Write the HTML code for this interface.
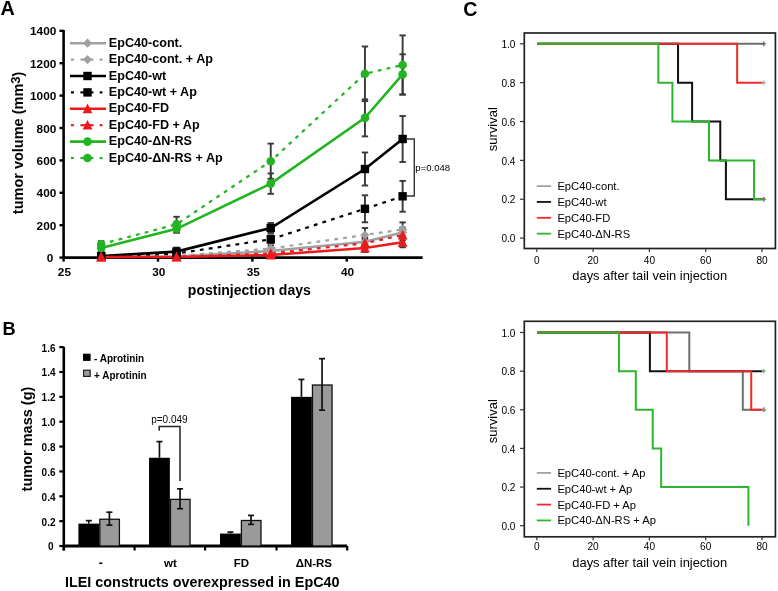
<!DOCTYPE html>
<html><head><meta charset="utf-8"><style>html,body{margin:0;padding:0;background:#fff;overflow:hidden;}svg{display:block;filter:blur(0.35px);}</style></head>
<body><svg width="778" height="591" viewBox="0 0 778 591" font-family='"Liberation Sans", sans-serif'><rect width="778" height="591" fill="#fff"/><text x="0.60" y="15.40" font-size="19.8" font-weight="bold" text-anchor="start" fill="#000" >A</text>
<line x1="63.60" y1="30.00" x2="63.60" y2="257.60" stroke="#000" stroke-width="2.6" />
<line x1="59.50" y1="257.60" x2="63.60" y2="257.60" stroke="#000" stroke-width="2.4" />
<text x="53.30" y="262.10" font-size="11.8" font-weight="bold" text-anchor="end" fill="#000" >0</text>
<line x1="59.50" y1="225.20" x2="63.60" y2="225.20" stroke="#000" stroke-width="2.4" />
<text x="56.30" y="229.70" font-size="11.8" font-weight="bold" text-anchor="end" fill="#000" >200</text>
<line x1="59.50" y1="192.80" x2="63.60" y2="192.80" stroke="#000" stroke-width="2.4" />
<text x="56.30" y="197.30" font-size="11.8" font-weight="bold" text-anchor="end" fill="#000" >400</text>
<line x1="59.50" y1="160.40" x2="63.60" y2="160.40" stroke="#000" stroke-width="2.4" />
<text x="56.30" y="164.90" font-size="11.8" font-weight="bold" text-anchor="end" fill="#000" >600</text>
<line x1="59.50" y1="128.00" x2="63.60" y2="128.00" stroke="#000" stroke-width="2.4" />
<text x="56.30" y="132.50" font-size="11.8" font-weight="bold" text-anchor="end" fill="#000" >800</text>
<line x1="59.50" y1="95.60" x2="63.60" y2="95.60" stroke="#000" stroke-width="2.4" />
<text x="56.30" y="100.10" font-size="11.8" font-weight="bold" text-anchor="end" fill="#000" >1000</text>
<line x1="59.50" y1="63.20" x2="63.60" y2="63.20" stroke="#000" stroke-width="2.4" />
<text x="56.30" y="67.70" font-size="11.8" font-weight="bold" text-anchor="end" fill="#000" >1200</text>
<line x1="59.50" y1="30.80" x2="63.60" y2="30.80" stroke="#000" stroke-width="2.4" />
<text x="56.30" y="35.30" font-size="11.8" font-weight="bold" text-anchor="end" fill="#000" >1400</text>
<line x1="63.60" y1="257.60" x2="422.60" y2="257.60" stroke="#000" stroke-width="2.6" />
<line x1="63.60" y1="257.60" x2="63.60" y2="261.60" stroke="#000" stroke-width="2.4" />
<text x="64.40" y="276.00" font-size="11.8" font-weight="bold" text-anchor="middle" fill="#000" >25</text>
<line x1="158.00" y1="257.60" x2="158.00" y2="261.60" stroke="#000" stroke-width="2.4" />
<text x="158.80" y="276.00" font-size="11.8" font-weight="bold" text-anchor="middle" fill="#000" >30</text>
<line x1="252.40" y1="257.60" x2="252.40" y2="261.60" stroke="#000" stroke-width="2.4" />
<text x="253.20" y="276.00" font-size="11.8" font-weight="bold" text-anchor="middle" fill="#000" >35</text>
<line x1="346.80" y1="257.60" x2="346.80" y2="261.60" stroke="#000" stroke-width="2.4" />
<text x="347.60" y="276.00" font-size="11.8" font-weight="bold" text-anchor="middle" fill="#000" >40</text>
<text x="249.30" y="294.50" font-size="14" font-weight="bold" text-anchor="middle" fill="#000" >postinjection days</text>
<text transform="translate(22.8,142.9) rotate(-90)" font-size="14.5" font-weight="bold" text-anchor="middle">tumor volume (mm<tspan font-size="13" dy="-3.2">3</tspan><tspan dy="3.2">)</tspan></text>
<line x1="364.94" y1="237.80" x2="364.94" y2="245.80" stroke="#383838" stroke-width="1.9" />
<line x1="361.74" y1="237.80" x2="368.14" y2="237.80" stroke="#383838" stroke-width="1.9" />
<line x1="361.74" y1="245.80" x2="368.14" y2="245.80" stroke="#383838" stroke-width="1.9" />
<line x1="402.62" y1="227.50" x2="402.62" y2="237.50" stroke="#383838" stroke-width="1.9" />
<line x1="399.42" y1="227.50" x2="405.82" y2="227.50" stroke="#383838" stroke-width="1.9" />
<line x1="399.42" y1="237.50" x2="405.82" y2="237.50" stroke="#383838" stroke-width="1.9" />
<line x1="270.74" y1="245.50" x2="270.74" y2="251.50" stroke="#383838" stroke-width="1.9" />
<line x1="267.54" y1="245.50" x2="273.94" y2="245.50" stroke="#383838" stroke-width="1.9" />
<line x1="267.54" y1="251.50" x2="273.94" y2="251.50" stroke="#383838" stroke-width="1.9" />
<line x1="364.94" y1="228.00" x2="364.94" y2="242.00" stroke="#383838" stroke-width="1.9" />
<line x1="361.74" y1="228.00" x2="368.14" y2="228.00" stroke="#383838" stroke-width="1.9" />
<line x1="361.74" y1="242.00" x2="368.14" y2="242.00" stroke="#383838" stroke-width="1.9" />
<line x1="402.62" y1="222.40" x2="402.62" y2="236.40" stroke="#383838" stroke-width="1.9" />
<line x1="399.42" y1="222.40" x2="405.82" y2="222.40" stroke="#383838" stroke-width="1.9" />
<line x1="399.42" y1="236.40" x2="405.82" y2="236.40" stroke="#383838" stroke-width="1.9" />
<line x1="176.54" y1="247.60" x2="176.54" y2="255.60" stroke="#383838" stroke-width="1.9" />
<line x1="173.34" y1="247.60" x2="179.74" y2="247.60" stroke="#383838" stroke-width="1.9" />
<line x1="173.34" y1="255.60" x2="179.74" y2="255.60" stroke="#383838" stroke-width="1.9" />
<line x1="270.74" y1="223.00" x2="270.74" y2="233.00" stroke="#383838" stroke-width="1.9" />
<line x1="267.54" y1="223.00" x2="273.94" y2="223.00" stroke="#383838" stroke-width="1.9" />
<line x1="267.54" y1="233.00" x2="273.94" y2="233.00" stroke="#383838" stroke-width="1.9" />
<line x1="364.94" y1="152.50" x2="364.94" y2="185.50" stroke="#383838" stroke-width="1.9" />
<line x1="361.74" y1="152.50" x2="368.14" y2="152.50" stroke="#383838" stroke-width="1.9" />
<line x1="361.74" y1="185.50" x2="368.14" y2="185.50" stroke="#383838" stroke-width="1.9" />
<line x1="402.62" y1="116.00" x2="402.62" y2="162.00" stroke="#383838" stroke-width="1.9" />
<line x1="399.42" y1="116.00" x2="405.82" y2="116.00" stroke="#383838" stroke-width="1.9" />
<line x1="399.42" y1="162.00" x2="405.82" y2="162.00" stroke="#383838" stroke-width="1.9" />
<line x1="270.74" y1="235.30" x2="270.74" y2="243.30" stroke="#383838" stroke-width="1.9" />
<line x1="267.54" y1="235.30" x2="273.94" y2="235.30" stroke="#383838" stroke-width="1.9" />
<line x1="267.54" y1="243.30" x2="273.94" y2="243.30" stroke="#383838" stroke-width="1.9" />
<line x1="364.94" y1="195.30" x2="364.94" y2="222.30" stroke="#383838" stroke-width="1.9" />
<line x1="361.74" y1="195.30" x2="368.14" y2="195.30" stroke="#383838" stroke-width="1.9" />
<line x1="361.74" y1="222.30" x2="368.14" y2="222.30" stroke="#383838" stroke-width="1.9" />
<line x1="402.62" y1="180.90" x2="402.62" y2="211.70" stroke="#383838" stroke-width="1.9" />
<line x1="399.42" y1="180.90" x2="405.82" y2="180.90" stroke="#383838" stroke-width="1.9" />
<line x1="399.42" y1="211.70" x2="405.82" y2="211.70" stroke="#383838" stroke-width="1.9" />
<line x1="364.94" y1="244.00" x2="364.94" y2="252.00" stroke="#383838" stroke-width="1.9" />
<line x1="361.74" y1="244.00" x2="368.14" y2="244.00" stroke="#383838" stroke-width="1.9" />
<line x1="361.74" y1="252.00" x2="368.14" y2="252.00" stroke="#383838" stroke-width="1.9" />
<line x1="402.62" y1="237.30" x2="402.62" y2="247.30" stroke="#383838" stroke-width="1.9" />
<line x1="399.42" y1="237.30" x2="405.82" y2="237.30" stroke="#383838" stroke-width="1.9" />
<line x1="399.42" y1="247.30" x2="405.82" y2="247.30" stroke="#383838" stroke-width="1.9" />
<line x1="364.94" y1="239.20" x2="364.94" y2="247.20" stroke="#383838" stroke-width="1.9" />
<line x1="361.74" y1="239.20" x2="368.14" y2="239.20" stroke="#383838" stroke-width="1.9" />
<line x1="361.74" y1="247.20" x2="368.14" y2="247.20" stroke="#383838" stroke-width="1.9" />
<line x1="402.62" y1="230.20" x2="402.62" y2="240.20" stroke="#383838" stroke-width="1.9" />
<line x1="399.42" y1="230.20" x2="405.82" y2="230.20" stroke="#383838" stroke-width="1.9" />
<line x1="399.42" y1="240.20" x2="405.82" y2="240.20" stroke="#383838" stroke-width="1.9" />
<line x1="101.18" y1="245.00" x2="101.18" y2="251.00" stroke="#383838" stroke-width="1.9" />
<line x1="97.98" y1="245.00" x2="104.38" y2="245.00" stroke="#383838" stroke-width="1.9" />
<line x1="97.98" y1="251.00" x2="104.38" y2="251.00" stroke="#383838" stroke-width="1.9" />
<line x1="176.54" y1="224.80" x2="176.54" y2="232.80" stroke="#383838" stroke-width="1.9" />
<line x1="173.34" y1="224.80" x2="179.74" y2="224.80" stroke="#383838" stroke-width="1.9" />
<line x1="173.34" y1="232.80" x2="179.74" y2="232.80" stroke="#383838" stroke-width="1.9" />
<line x1="270.74" y1="173.40" x2="270.74" y2="193.80" stroke="#383838" stroke-width="1.9" />
<line x1="267.54" y1="173.40" x2="273.94" y2="173.40" stroke="#383838" stroke-width="1.9" />
<line x1="267.54" y1="193.80" x2="273.94" y2="193.80" stroke="#383838" stroke-width="1.9" />
<line x1="364.94" y1="99.40" x2="364.94" y2="136.40" stroke="#383838" stroke-width="1.9" />
<line x1="361.74" y1="99.40" x2="368.14" y2="99.40" stroke="#383838" stroke-width="1.9" />
<line x1="361.74" y1="136.40" x2="368.14" y2="136.40" stroke="#383838" stroke-width="1.9" />
<line x1="402.62" y1="54.30" x2="402.62" y2="94.50" stroke="#383838" stroke-width="1.9" />
<line x1="399.42" y1="54.30" x2="405.82" y2="54.30" stroke="#383838" stroke-width="1.9" />
<line x1="399.42" y1="94.50" x2="405.82" y2="94.50" stroke="#383838" stroke-width="1.9" />
<line x1="101.18" y1="241.20" x2="101.18" y2="247.20" stroke="#383838" stroke-width="1.9" />
<line x1="97.98" y1="241.20" x2="104.38" y2="241.20" stroke="#383838" stroke-width="1.9" />
<line x1="97.98" y1="247.20" x2="104.38" y2="247.20" stroke="#383838" stroke-width="1.9" />
<line x1="176.54" y1="216.80" x2="176.54" y2="231.80" stroke="#383838" stroke-width="1.9" />
<line x1="173.34" y1="216.80" x2="179.74" y2="216.80" stroke="#383838" stroke-width="1.9" />
<line x1="173.34" y1="231.80" x2="179.74" y2="231.80" stroke="#383838" stroke-width="1.9" />
<line x1="270.74" y1="143.60" x2="270.74" y2="178.80" stroke="#383838" stroke-width="1.9" />
<line x1="267.54" y1="143.60" x2="273.94" y2="143.60" stroke="#383838" stroke-width="1.9" />
<line x1="267.54" y1="178.80" x2="273.94" y2="178.80" stroke="#383838" stroke-width="1.9" />
<line x1="364.94" y1="46.50" x2="364.94" y2="101.10" stroke="#383838" stroke-width="1.9" />
<line x1="361.74" y1="46.50" x2="368.14" y2="46.50" stroke="#383838" stroke-width="1.9" />
<line x1="361.74" y1="101.10" x2="368.14" y2="101.10" stroke="#383838" stroke-width="1.9" />
<line x1="402.62" y1="35.40" x2="402.62" y2="94.60" stroke="#383838" stroke-width="1.9" />
<line x1="399.42" y1="35.40" x2="405.82" y2="35.40" stroke="#383838" stroke-width="1.9" />
<line x1="399.42" y1="94.60" x2="405.82" y2="94.60" stroke="#383838" stroke-width="1.9" />
<polyline points="101.18,257.00 176.54,256.50 270.74,251.00 364.94,241.80 402.62,232.50" fill="none" stroke="#a0a0a0" stroke-width="2.6" />
<polyline points="101.18,257.00 176.54,256.00 270.74,248.50 364.94,235.00 402.62,229.40" fill="none" stroke="#a0a0a0" stroke-width="2.2" stroke-dasharray="3.8 5.2"/>
<polyline points="101.18,256.00 176.54,251.60 270.74,228.00 364.94,169.00 402.62,139.00" fill="none" stroke="#000" stroke-width="2.6" />
<polyline points="101.18,256.50 176.54,253.50 270.74,239.30 364.94,208.80 402.62,196.30" fill="none" stroke="#000" stroke-width="2.2" stroke-dasharray="3.8 5.2"/>
<polyline points="101.18,257.00 176.54,257.00 270.74,255.00 364.94,248.00 402.62,242.30" fill="none" stroke="#e81c1c" stroke-width="2.6" />
<polyline points="101.18,257.00 176.54,256.80 270.74,253.50 364.94,243.20 402.62,235.20" fill="none" stroke="#e81c1c" stroke-width="2.2" stroke-dasharray="3.8 5.2"/>
<polyline points="101.18,248.00 176.54,228.80 270.74,183.60 364.94,117.90 402.62,74.40" fill="none" stroke="#22b422" stroke-width="2.6" />
<polyline points="101.18,244.20 176.54,224.30 270.74,161.20 364.94,73.80 402.62,65.00" fill="none" stroke="#22b422" stroke-width="2.2" stroke-dasharray="3.8 5.2"/>
<path d="M101.18 252.40L105.78 257.00L101.18 261.60L96.58 257.00Z" fill="#a0a0a0"/>
<path d="M176.54 251.90L181.14 256.50L176.54 261.10L171.94 256.50Z" fill="#a0a0a0"/>
<path d="M270.74 246.40L275.34 251.00L270.74 255.60L266.14 251.00Z" fill="#a0a0a0"/>
<path d="M364.94 237.20L369.54 241.80L364.94 246.40L360.34 241.80Z" fill="#a0a0a0"/>
<path d="M402.62 227.90L407.22 232.50L402.62 237.10L398.02 232.50Z" fill="#a0a0a0"/>
<path d="M101.18 252.40L105.78 257.00L101.18 261.60L96.58 257.00Z" fill="#a0a0a0"/>
<path d="M176.54 251.40L181.14 256.00L176.54 260.60L171.94 256.00Z" fill="#a0a0a0"/>
<path d="M270.74 243.90L275.34 248.50L270.74 253.10L266.14 248.50Z" fill="#a0a0a0"/>
<path d="M364.94 230.40L369.54 235.00L364.94 239.60L360.34 235.00Z" fill="#a0a0a0"/>
<path d="M402.62 224.80L407.22 229.40L402.62 234.00L398.02 229.40Z" fill="#a0a0a0"/>
<rect x="96.98" y="251.80" width="8.40" height="8.40" fill="#000"/>
<rect x="172.34" y="247.40" width="8.40" height="8.40" fill="#000"/>
<rect x="266.54" y="223.80" width="8.40" height="8.40" fill="#000"/>
<rect x="360.74" y="164.80" width="8.40" height="8.40" fill="#000"/>
<rect x="398.42" y="134.80" width="8.40" height="8.40" fill="#000"/>
<rect x="96.98" y="252.30" width="8.40" height="8.40" fill="#000"/>
<rect x="172.34" y="249.30" width="8.40" height="8.40" fill="#000"/>
<rect x="266.54" y="235.10" width="8.40" height="8.40" fill="#000"/>
<rect x="360.74" y="204.60" width="8.40" height="8.40" fill="#000"/>
<rect x="398.42" y="192.10" width="8.40" height="8.40" fill="#000"/>
<path d="M101.18 251.80L106.08 261.40L96.28 261.40Z" fill="#e81c1c"/>
<path d="M176.54 251.80L181.44 261.40L171.64 261.40Z" fill="#e81c1c"/>
<path d="M270.74 249.80L275.64 259.40L265.84 259.40Z" fill="#e81c1c"/>
<path d="M364.94 242.80L369.84 252.40L360.04 252.40Z" fill="#e81c1c"/>
<path d="M402.62 237.10L407.52 246.70L397.72 246.70Z" fill="#e81c1c"/>
<path d="M101.18 251.80L106.08 261.40L96.28 261.40Z" fill="#e81c1c"/>
<path d="M176.54 251.60L181.44 261.20L171.64 261.20Z" fill="#e81c1c"/>
<path d="M270.74 248.30L275.64 257.90L265.84 257.90Z" fill="#e81c1c"/>
<path d="M364.94 238.00L369.84 247.60L360.04 247.60Z" fill="#e81c1c"/>
<path d="M402.62 230.00L407.52 239.60L397.72 239.60Z" fill="#e81c1c"/>
<circle cx="101.18" cy="248.00" r="4.30" fill="#22b422"/>
<circle cx="176.54" cy="228.80" r="4.30" fill="#22b422"/>
<circle cx="270.74" cy="183.60" r="4.30" fill="#22b422"/>
<circle cx="364.94" cy="117.90" r="4.30" fill="#22b422"/>
<circle cx="402.62" cy="74.40" r="4.30" fill="#22b422"/>
<circle cx="101.18" cy="244.20" r="4.30" fill="#22b422"/>
<circle cx="176.54" cy="224.30" r="4.30" fill="#22b422"/>
<circle cx="270.74" cy="161.20" r="4.30" fill="#22b422"/>
<circle cx="364.94" cy="73.80" r="4.30" fill="#22b422"/>
<circle cx="402.62" cy="65.00" r="4.30" fill="#22b422"/>
<path d="M406 139H414.3V196H406" fill="none" stroke="#333" stroke-width="1.4"/>
<text x="415.20" y="171.40" font-size="9.6" font-weight="normal" text-anchor="start" fill="#000" >p=0.048</text>
<line x1="70.00" y1="43.20" x2="106.00" y2="43.20" stroke="#a0a0a0" stroke-width="2.6" />
<path d="M87.50 38.60L92.10 43.20L87.50 47.80L82.90 43.20Z" fill="#a0a0a0"/>
<text x="108.80" y="46.70" font-size="12.6" font-weight="bold" text-anchor="start" fill="#000" >EpC40-cont.</text>
<line x1="71.00" y1="59.60" x2="73.90" y2="59.60" stroke="#a0a0a0" stroke-width="2.2" />
<line x1="80.40" y1="59.60" x2="93.40" y2="59.60" stroke="#a0a0a0" stroke-width="2.2" />
<line x1="99.70" y1="59.60" x2="102.50" y2="59.60" stroke="#a0a0a0" stroke-width="2.2" />
<path d="M87.50 55.00L92.10 59.60L87.50 64.20L82.90 59.60Z" fill="#a0a0a0"/>
<text x="108.80" y="63.10" font-size="12.6" font-weight="bold" text-anchor="start" fill="#000" >EpC40-cont. + Ap</text>
<line x1="70.00" y1="76.00" x2="106.00" y2="76.00" stroke="#000" stroke-width="2.6" />
<rect x="83.30" y="71.80" width="8.40" height="8.40" fill="#000"/>
<text x="108.80" y="79.50" font-size="12.6" font-weight="bold" text-anchor="start" fill="#000" >EpC40-wt</text>
<line x1="71.00" y1="92.40" x2="73.90" y2="92.40" stroke="#000" stroke-width="2.2" />
<line x1="80.40" y1="92.40" x2="93.40" y2="92.40" stroke="#000" stroke-width="2.2" />
<line x1="99.70" y1="92.40" x2="102.50" y2="92.40" stroke="#000" stroke-width="2.2" />
<rect x="83.30" y="88.20" width="8.40" height="8.40" fill="#000"/>
<text x="108.80" y="95.90" font-size="12.6" font-weight="bold" text-anchor="start" fill="#000" >EpC40-wt + Ap</text>
<line x1="70.00" y1="108.80" x2="106.00" y2="108.80" stroke="#e81c1c" stroke-width="2.6" />
<path d="M87.50 103.60L92.40 113.20L82.60 113.20Z" fill="#e81c1c"/>
<text x="108.80" y="112.30" font-size="12.6" font-weight="bold" text-anchor="start" fill="#000" >EpC40-FD</text>
<line x1="71.00" y1="125.20" x2="73.90" y2="125.20" stroke="#e81c1c" stroke-width="2.2" />
<line x1="80.40" y1="125.20" x2="93.40" y2="125.20" stroke="#e81c1c" stroke-width="2.2" />
<line x1="99.70" y1="125.20" x2="102.50" y2="125.20" stroke="#e81c1c" stroke-width="2.2" />
<path d="M87.50 120.00L92.40 129.60L82.60 129.60Z" fill="#e81c1c"/>
<text x="108.80" y="128.70" font-size="12.6" font-weight="bold" text-anchor="start" fill="#000" >EpC40-FD + Ap</text>
<line x1="70.00" y1="141.60" x2="106.00" y2="141.60" stroke="#22b422" stroke-width="2.6" />
<circle cx="87.50" cy="141.60" r="4.30" fill="#22b422"/>
<text x="108.80" y="145.10" font-size="12.6" font-weight="bold" text-anchor="start" fill="#000" >EpC40-&#916;N-RS</text>
<line x1="71.00" y1="158.00" x2="73.90" y2="158.00" stroke="#22b422" stroke-width="2.2" />
<line x1="80.40" y1="158.00" x2="93.40" y2="158.00" stroke="#22b422" stroke-width="2.2" />
<line x1="99.70" y1="158.00" x2="102.50" y2="158.00" stroke="#22b422" stroke-width="2.2" />
<circle cx="87.50" cy="158.00" r="4.30" fill="#22b422"/>
<text x="108.80" y="161.50" font-size="12.6" font-weight="bold" text-anchor="start" fill="#000" >EpC40-&#916;N-RS + Ap</text>
<text x="2.60" y="334.80" font-size="18.2" font-weight="bold" text-anchor="start" fill="#000" >B</text>
<line x1="63.80" y1="346.80" x2="63.80" y2="550.50" stroke="#000" stroke-width="2.6" />
<line x1="59.30" y1="546.00" x2="63.80" y2="546.00" stroke="#000" stroke-width="2.2" />
<text x="53.50" y="550.40" font-size="10" font-weight="bold" text-anchor="end" fill="#000" >0</text>
<line x1="59.30" y1="521.14" x2="63.80" y2="521.14" stroke="#000" stroke-width="2.2" />
<text x="55.50" y="525.54" font-size="10" font-weight="bold" text-anchor="end" fill="#000" >0.2</text>
<line x1="59.30" y1="496.28" x2="63.80" y2="496.28" stroke="#000" stroke-width="2.2" />
<text x="55.50" y="500.68" font-size="10" font-weight="bold" text-anchor="end" fill="#000" >0.4</text>
<line x1="59.30" y1="471.42" x2="63.80" y2="471.42" stroke="#000" stroke-width="2.2" />
<text x="55.50" y="475.82" font-size="10" font-weight="bold" text-anchor="end" fill="#000" >0.6</text>
<line x1="59.30" y1="446.56" x2="63.80" y2="446.56" stroke="#000" stroke-width="2.2" />
<text x="55.50" y="450.96" font-size="10" font-weight="bold" text-anchor="end" fill="#000" >0.8</text>
<line x1="59.30" y1="421.70" x2="63.80" y2="421.70" stroke="#000" stroke-width="2.2" />
<text x="55.50" y="426.10" font-size="10" font-weight="bold" text-anchor="end" fill="#000" >1.0</text>
<line x1="59.30" y1="396.84" x2="63.80" y2="396.84" stroke="#000" stroke-width="2.2" />
<text x="55.50" y="401.24" font-size="10" font-weight="bold" text-anchor="end" fill="#000" >1.2</text>
<line x1="59.30" y1="371.98" x2="63.80" y2="371.98" stroke="#000" stroke-width="2.2" />
<text x="55.50" y="376.38" font-size="10" font-weight="bold" text-anchor="end" fill="#000" >1.4</text>
<line x1="59.30" y1="347.12" x2="63.80" y2="347.12" stroke="#000" stroke-width="2.2" />
<text x="55.50" y="351.52" font-size="10" font-weight="bold" text-anchor="end" fill="#000" >1.6</text>
<line x1="63.80" y1="546.00" x2="347.20" y2="546.00" stroke="#000" stroke-width="2.8" />
<line x1="63.80" y1="546.00" x2="63.80" y2="550.50" stroke="#000" stroke-width="2.2" />
<line x1="134.60" y1="546.00" x2="134.60" y2="550.50" stroke="#000" stroke-width="2.2" />
<line x1="205.10" y1="546.00" x2="205.10" y2="550.50" stroke="#000" stroke-width="2.2" />
<line x1="276.50" y1="546.00" x2="276.50" y2="550.50" stroke="#000" stroke-width="2.2" />
<line x1="347.20" y1="546.00" x2="347.20" y2="550.50" stroke="#000" stroke-width="2.2" />
<rect x="78.40" y="523.63" width="20.8" height="22.37" fill="#000"/>
<rect x="99.80" y="519.25" width="19.6" height="26.75" fill="#9a9a9a" stroke="#111" stroke-width="1.3"/>
<line x1="88.80" y1="520.64" x2="88.80" y2="523.63" stroke="#111" stroke-width="1.7" />
<line x1="85.80" y1="520.64" x2="91.80" y2="520.64" stroke="#111" stroke-width="1.7" />
<line x1="109.40" y1="512.19" x2="109.40" y2="525.12" stroke="#111" stroke-width="1.7" />
<line x1="106.40" y1="512.19" x2="112.40" y2="512.19" stroke="#111" stroke-width="1.7" />
<line x1="106.40" y1="525.12" x2="112.40" y2="525.12" stroke="#111" stroke-width="1.7" />
<rect x="149.05" y="457.75" width="20.8" height="88.25" fill="#000"/>
<rect x="170.45" y="499.37" width="19.6" height="46.63" fill="#9a9a9a" stroke="#111" stroke-width="1.3"/>
<line x1="159.45" y1="441.59" x2="159.45" y2="457.75" stroke="#111" stroke-width="1.7" />
<line x1="156.45" y1="441.59" x2="162.45" y2="441.59" stroke="#111" stroke-width="1.7" />
<line x1="180.05" y1="488.82" x2="180.05" y2="508.71" stroke="#111" stroke-width="1.7" />
<line x1="177.05" y1="488.82" x2="183.05" y2="488.82" stroke="#111" stroke-width="1.7" />
<line x1="177.05" y1="508.71" x2="183.05" y2="508.71" stroke="#111" stroke-width="1.7" />
<rect x="220.00" y="533.57" width="20.8" height="12.43" fill="#000"/>
<rect x="241.40" y="520.50" width="19.6" height="25.50" fill="#9a9a9a" stroke="#111" stroke-width="1.3"/>
<line x1="230.40" y1="532.08" x2="230.40" y2="533.57" stroke="#111" stroke-width="1.7" />
<line x1="227.40" y1="532.08" x2="233.40" y2="532.08" stroke="#111" stroke-width="1.7" />
<line x1="251.00" y1="515.42" x2="251.00" y2="524.37" stroke="#111" stroke-width="1.7" />
<line x1="248.00" y1="515.42" x2="254.00" y2="515.42" stroke="#111" stroke-width="1.7" />
<line x1="248.00" y1="524.37" x2="254.00" y2="524.37" stroke="#111" stroke-width="1.7" />
<rect x="291.05" y="396.84" width="20.8" height="149.16" fill="#000"/>
<rect x="312.45" y="385.01" width="19.6" height="160.99" fill="#9a9a9a" stroke="#111" stroke-width="1.3"/>
<line x1="301.45" y1="379.44" x2="301.45" y2="396.84" stroke="#111" stroke-width="1.7" />
<line x1="298.45" y1="379.44" x2="304.45" y2="379.44" stroke="#111" stroke-width="1.7" />
<line x1="322.05" y1="358.68" x2="322.05" y2="410.14" stroke="#111" stroke-width="1.7" />
<line x1="319.05" y1="358.68" x2="325.05" y2="358.68" stroke="#111" stroke-width="1.7" />
<line x1="319.05" y1="410.14" x2="325.05" y2="410.14" stroke="#111" stroke-width="1.7" />
<text x="100.80" y="566.60" font-size="12.5" font-weight="bold" text-anchor="middle" fill="#000" >-</text>
<text x="170.35" y="567.00" font-size="11.5" font-weight="bold" text-anchor="middle" fill="#000" >wt</text>
<text x="241.30" y="567.00" font-size="11.5" font-weight="bold" text-anchor="middle" fill="#000" >FD</text>
<text x="313.85" y="567.00" font-size="11.5" font-weight="bold" text-anchor="middle" fill="#000" >&#916;N-RS</text>
<text x="202.30" y="586.60" font-size="14.36" font-weight="bold" text-anchor="middle" fill="#000" >ILEI constructs overexpressed in EpC40</text>
<text transform="translate(32.3,439) rotate(-90)" font-size="14.5" font-weight="bold" text-anchor="middle">tumor mass (g)</text>
<rect x="83" y="353.7" width="7.6" height="7.2" fill="#000"/>
<rect x="83.6" y="370.2" width="6.6" height="6.2" fill="#9a9a9a" stroke="#222" stroke-width="1.2"/>
<text x="94.00" y="361.50" font-size="10" font-weight="bold" text-anchor="start" fill="#000" >- Aprotinin</text>
<text x="94.00" y="378.90" font-size="10" font-weight="bold" text-anchor="start" fill="#000" >+ Aprotinin</text>
<path d="M159.2 430.8V426.6H180V481" fill="none" stroke="#222" stroke-width="1.5"/>
<text x="169.40" y="422.90" font-size="10" font-weight="normal" text-anchor="middle" fill="#000" >p=0.049</text>
<text x="463.30" y="16.30" font-size="19.6" font-weight="bold" text-anchor="start" fill="#000" >C</text>
<rect x="524.3" y="33.00" width="251.1" height="215.50" fill="none" stroke="#222" stroke-width="1.7"/>
<line x1="520.00" y1="238.10" x2="524.30" y2="238.10" stroke="#333" stroke-width="1.2" />
<text x="515.50" y="242.30" font-size="10.1" font-weight="normal" text-anchor="end" fill="#000" >0.0</text>
<line x1="520.00" y1="199.24" x2="524.30" y2="199.24" stroke="#333" stroke-width="1.2" />
<text x="515.50" y="203.44" font-size="10.1" font-weight="normal" text-anchor="end" fill="#000" >0.2</text>
<line x1="520.00" y1="160.38" x2="524.30" y2="160.38" stroke="#333" stroke-width="1.2" />
<text x="515.50" y="164.58" font-size="10.1" font-weight="normal" text-anchor="end" fill="#000" >0.4</text>
<line x1="520.00" y1="121.52" x2="524.30" y2="121.52" stroke="#333" stroke-width="1.2" />
<text x="515.50" y="125.72" font-size="10.1" font-weight="normal" text-anchor="end" fill="#000" >0.6</text>
<line x1="520.00" y1="82.66" x2="524.30" y2="82.66" stroke="#333" stroke-width="1.2" />
<text x="515.50" y="86.86" font-size="10.1" font-weight="normal" text-anchor="end" fill="#000" >0.8</text>
<line x1="520.00" y1="43.80" x2="524.30" y2="43.80" stroke="#333" stroke-width="1.2" />
<text x="515.50" y="48.00" font-size="10.1" font-weight="normal" text-anchor="end" fill="#000" >1.0</text>
<line x1="536.80" y1="248.50" x2="536.80" y2="252.00" stroke="#333" stroke-width="1.2" />
<text x="536.80" y="263.70" font-size="10.1" font-weight="normal" text-anchor="middle" fill="#000" >0</text>
<line x1="593.10" y1="248.50" x2="593.10" y2="252.00" stroke="#333" stroke-width="1.2" />
<text x="593.10" y="263.70" font-size="10.1" font-weight="normal" text-anchor="middle" fill="#000" >20</text>
<line x1="649.40" y1="248.50" x2="649.40" y2="252.00" stroke="#333" stroke-width="1.2" />
<text x="649.40" y="263.70" font-size="10.1" font-weight="normal" text-anchor="middle" fill="#000" >40</text>
<line x1="705.70" y1="248.50" x2="705.70" y2="252.00" stroke="#333" stroke-width="1.2" />
<text x="705.70" y="263.70" font-size="10.1" font-weight="normal" text-anchor="middle" fill="#000" >60</text>
<line x1="762.00" y1="248.50" x2="762.00" y2="252.00" stroke="#333" stroke-width="1.2" />
<text x="762.00" y="263.70" font-size="10.1" font-weight="normal" text-anchor="middle" fill="#000" >80</text>
<text x="649.70" y="279.70" font-size="12.9" font-weight="normal" text-anchor="middle" fill="#000" >days after tail vein injection</text>
<text transform="translate(497,129.20) rotate(-90)" font-size="13" text-anchor="middle">survival</text>
<path d="M537.30 43.80H762.50" fill="none" stroke="#6e6e6e" stroke-width="2"/>
<path d="M761.70 43.80H765.70M763.70 41.60V46.00" stroke="#3a4a4a" stroke-width="1.5" opacity="0.8"/>
<path d="M537.30 43.80H678.05V82.66H692.12V121.52H720.27V160.38H725.90V199.24H762.50" fill="none" stroke="#111" stroke-width="2"/>
<path d="M761.70 199.24H765.70M763.70 197.04V201.44" stroke="#50b050" stroke-width="1.5" opacity="0.8"/>
<path d="M537.30 43.80H737.16V82.66H762.50" fill="none" stroke="#ee2a2a" stroke-width="2"/>
<path d="M761.70 82.66H765.70M763.70 80.46V84.86" stroke="#9a9a80" stroke-width="1.5" opacity="0.8"/>
<path d="M537.30 43.80H658.34V82.66H672.42V121.52H709.01V160.38H754.05V199.24H762.50" fill="none" stroke="#2db52d" stroke-width="2"/>
<path d="M761.70 199.24H765.70M763.70 197.04V201.44" stroke="#8a5a6a" stroke-width="1.5" opacity="0.8"/>
<line x1="536.80" y1="186.10" x2="551.10" y2="186.10" stroke="#a0a0a0" stroke-width="1.8" />
<text x="557.40" y="190.10" font-size="11.2" font-weight="normal" text-anchor="start" fill="#000" >EpC40-cont.</text>
<line x1="536.80" y1="201.95" x2="551.10" y2="201.95" stroke="#111" stroke-width="1.8" />
<text x="557.40" y="205.95" font-size="11.2" font-weight="normal" text-anchor="start" fill="#000" >EpC40-wt</text>
<line x1="536.80" y1="217.80" x2="551.10" y2="217.80" stroke="#ee2a2a" stroke-width="1.8" />
<text x="557.40" y="221.80" font-size="11.2" font-weight="normal" text-anchor="start" fill="#000" >EpC40-FD</text>
<line x1="536.80" y1="233.65" x2="551.10" y2="233.65" stroke="#2db52d" stroke-width="1.8" />
<text x="557.40" y="237.65" font-size="11.2" font-weight="normal" text-anchor="start" fill="#000" >EpC40-&#916;N-RS</text>
<rect x="524.3" y="321.30" width="251.1" height="215.50" fill="none" stroke="#222" stroke-width="1.7"/>
<line x1="520.00" y1="525.70" x2="524.30" y2="525.70" stroke="#333" stroke-width="1.2" />
<text x="515.50" y="529.90" font-size="10.1" font-weight="normal" text-anchor="end" fill="#000" >0.0</text>
<line x1="520.00" y1="487.06" x2="524.30" y2="487.06" stroke="#333" stroke-width="1.2" />
<text x="515.50" y="491.26" font-size="10.1" font-weight="normal" text-anchor="end" fill="#000" >0.2</text>
<line x1="520.00" y1="448.42" x2="524.30" y2="448.42" stroke="#333" stroke-width="1.2" />
<text x="515.50" y="452.62" font-size="10.1" font-weight="normal" text-anchor="end" fill="#000" >0.4</text>
<line x1="520.00" y1="409.78" x2="524.30" y2="409.78" stroke="#333" stroke-width="1.2" />
<text x="515.50" y="413.98" font-size="10.1" font-weight="normal" text-anchor="end" fill="#000" >0.6</text>
<line x1="520.00" y1="371.14" x2="524.30" y2="371.14" stroke="#333" stroke-width="1.2" />
<text x="515.50" y="375.34" font-size="10.1" font-weight="normal" text-anchor="end" fill="#000" >0.8</text>
<line x1="520.00" y1="332.50" x2="524.30" y2="332.50" stroke="#333" stroke-width="1.2" />
<text x="515.50" y="336.70" font-size="10.1" font-weight="normal" text-anchor="end" fill="#000" >1.0</text>
<line x1="536.80" y1="536.80" x2="536.80" y2="540.30" stroke="#333" stroke-width="1.2" />
<text x="536.80" y="550.00" font-size="10.1" font-weight="normal" text-anchor="middle" fill="#000" >0</text>
<line x1="593.10" y1="536.80" x2="593.10" y2="540.30" stroke="#333" stroke-width="1.2" />
<text x="593.10" y="550.00" font-size="10.1" font-weight="normal" text-anchor="middle" fill="#000" >20</text>
<line x1="649.40" y1="536.80" x2="649.40" y2="540.30" stroke="#333" stroke-width="1.2" />
<text x="649.40" y="550.00" font-size="10.1" font-weight="normal" text-anchor="middle" fill="#000" >40</text>
<line x1="705.70" y1="536.80" x2="705.70" y2="540.30" stroke="#333" stroke-width="1.2" />
<text x="705.70" y="550.00" font-size="10.1" font-weight="normal" text-anchor="middle" fill="#000" >60</text>
<line x1="762.00" y1="536.80" x2="762.00" y2="540.30" stroke="#333" stroke-width="1.2" />
<text x="762.00" y="550.00" font-size="10.1" font-weight="normal" text-anchor="middle" fill="#000" >80</text>
<text x="649.70" y="566.80" font-size="12.9" font-weight="normal" text-anchor="middle" fill="#000" >days after tail vein injection</text>
<text transform="translate(497,421.20) rotate(-90)" font-size="13" text-anchor="middle">survival</text>
<path d="M537.30 332.50H689.31V371.14H742.79V409.78H762.50" fill="none" stroke="#6e6e6e" stroke-width="2"/>
<path d="M761.70 409.78H765.70M763.70 407.58V411.98" stroke="#3a4a4a" stroke-width="1.5" opacity="0.8"/>
<path d="M537.30 332.50H649.90V371.14H762.50" fill="none" stroke="#111" stroke-width="2"/>
<path d="M761.70 371.14H765.70M763.70 368.94V373.34" stroke="#50b050" stroke-width="1.5" opacity="0.8"/>
<path d="M537.30 332.50H666.79V371.14H751.24V409.78H762.50" fill="none" stroke="#ee2a2a" stroke-width="2"/>
<path d="M761.70 409.78H765.70M763.70 407.58V411.98" stroke="#9a9a80" stroke-width="1.5" opacity="0.8"/>
<path d="M537.30 332.50H618.93V371.14H635.82V409.78H652.71V448.42H661.16V487.06H748.42V525.70H748.42" fill="none" stroke="#2db52d" stroke-width="2"/>
<line x1="536.80" y1="472.90" x2="551.10" y2="472.90" stroke="#a0a0a0" stroke-width="1.8" />
<text x="557.40" y="476.90" font-size="11.2" font-weight="normal" text-anchor="start" fill="#000" >EpC40-cont. + Ap</text>
<line x1="536.80" y1="488.75" x2="551.10" y2="488.75" stroke="#111" stroke-width="1.8" />
<text x="557.40" y="492.75" font-size="11.2" font-weight="normal" text-anchor="start" fill="#000" >EpC40-wt + Ap</text>
<line x1="536.80" y1="504.60" x2="551.10" y2="504.60" stroke="#ee2a2a" stroke-width="1.8" />
<text x="557.40" y="508.60" font-size="11.2" font-weight="normal" text-anchor="start" fill="#000" >EpC40-FD + Ap</text>
<line x1="536.80" y1="520.45" x2="551.10" y2="520.45" stroke="#2db52d" stroke-width="1.8" />
<text x="557.40" y="524.45" font-size="11.2" font-weight="normal" text-anchor="start" fill="#000" >EpC40-&#916;N-RS + Ap</text></svg></body></html>
